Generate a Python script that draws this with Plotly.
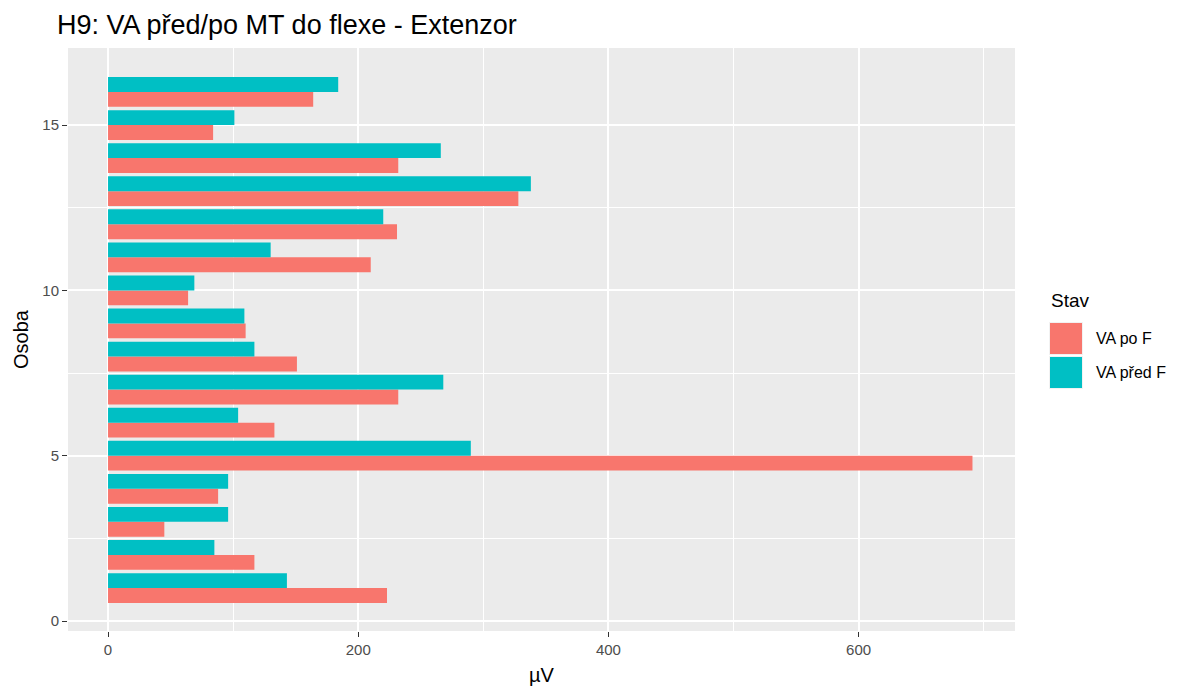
import plotly.graph_objects as go

persons = list(range(1, 17))
va_po_f = [223, 117, 45, 88, 691, 133, 232, 151, 110, 64, 210, 231, 328, 232, 84, 164]
va_pred_f = [143, 85, 96, 96, 290, 104, 268, 117, 109, 69, 130, 220, 338, 266, 101, 184]
series_names = ["VA po F", "VA před F"]
colors = ["#F8766D", "#00BFC4"]
x_ticks = [0, 200, 400, 600]
y_ticks = [0, 5, 10, 15]

fig = go.Figure()
for name, vals, col in zip(series_names, [va_po_f, va_pred_f], colors):
    fig.add_trace(go.Bar(
        y=persons, x=vals, orientation="h", name=name,
        marker=dict(color=col, line=dict(width=0)),
        showlegend=False,
    ))

font_family = "Liberation Sans, Arial, sans-serif"
OFF = 8  # page offset of the figure in the browser
W, H = 1191 - OFF, 697 - OFF
L, R, T, B = 68 - OFF, 1191 - 1015, 48 - OFF, 697 - 631

fig.update_layout(
    width=W, height=H,
    barmode="group", bargap=0.1, bargroupgap=0,
    paper_bgcolor="white", plot_bgcolor="#EBEBEB",
    margin=dict(l=L, r=R, t=T, b=B, autoexpand=False),
    font=dict(family=font_family, color="black"),
    title=dict(text="H9: VA před/po MT do flexe - Extenzor", x=(57 - OFF) / W, xanchor="left",
               y=1 - (25 - OFF) / H, yanchor="middle", font=dict(size=27, color="black")),
    xaxis=dict(
        range=[-32, 725], tickvals=x_ticks, ticktext=[str(v) for v in x_ticks],
        showgrid=True, gridcolor="white", gridwidth=2, zeroline=False,
        ticks="outside", ticklen=5, tickcolor="#333333", tickwidth=1,
        tickfont=dict(size=15, color="#4D4D4D"), automargin=False,
        minor=dict(dtick=100, tick0=0, showgrid=True, gridcolor="white", gridwidth=1, ticks=""),
        title=dict(text="µV", font=dict(size=20, color="black"), standoff=10),
        showline=False,
    ),
    yaxis=dict(
        range=[-0.3, 17.33], tickvals=y_ticks, ticktext=[str(v) for v in y_ticks],
        showgrid=True, gridcolor="white", gridwidth=2, zeroline=False,
        ticks="outside", ticklen=5, tickcolor="#333333", tickwidth=1,
        tickfont=dict(size=15, color="#4D4D4D"), automargin=False,
        minor=dict(dtick=2.5, tick0=0, showgrid=True, gridcolor="white", gridwidth=1, ticks=""),
        title=dict(text="Osoba", font=dict(size=20, color="black"), standoff=8),
        showline=False,
    ),
)

def px_x(px):
    return (px - OFF - L) / (W - L - R)

def px_y(py):
    return 1 - (py - OFF - T) / (H - T - B)

fig.add_annotation(text="Stav", x=px_x(1049), y=px_y(300), xref="paper", yref="paper",
                   xanchor="left", yanchor="middle", showarrow=False,
                   font=dict(size=19, color="black"))
key_tops = [322, 356]
for name, col, top in zip(series_names, colors, key_tops):
    fig.add_shape(type="rect", xref="paper", yref="paper",
                  x0=px_x(1049), x1=px_x(1083), y0=px_y(top), y1=px_y(top + 33),
                  fillcolor="#F2F2F2", line=dict(width=0))
    fig.add_shape(type="rect", xref="paper", yref="paper",
                  x0=px_x(1050), x1=px_x(1082), y0=px_y(top + 1), y1=px_y(top + 32),
                  fillcolor=col, line=dict(width=0))
    fig.add_annotation(text=name, x=px_x(1094), y=px_y(top + 17), xref="paper", yref="paper",
                       xanchor="left", yanchor="middle", showarrow=False,
                       font=dict(size=16, color="black"))

fig.write_html("out.html")
